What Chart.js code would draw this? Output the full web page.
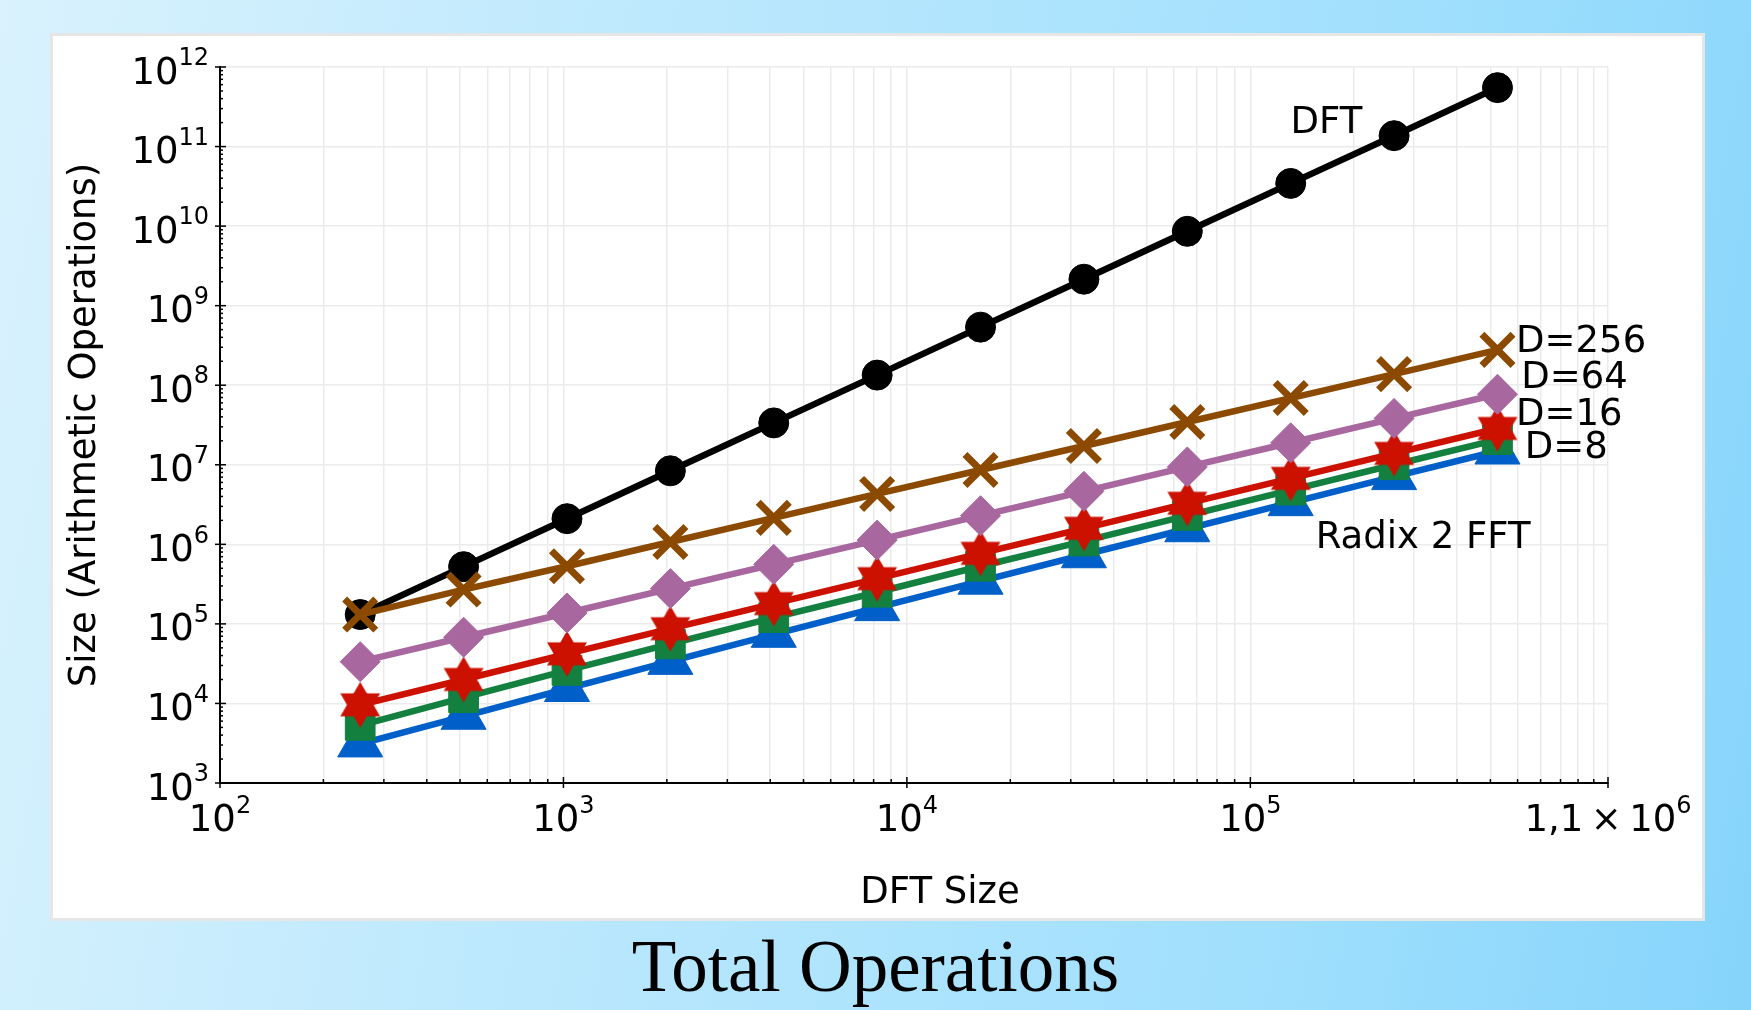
<!DOCTYPE html>
<html>
<head>
<meta charset="utf-8">
<script src="https://cdn.jsdelivr.net/npm/chart.js@4.4.0/dist/chart.umd.min.js"></script>
<style>
  body { margin: 0; width: 1751px; height: 1010px; overflow: hidden;
    background: linear-gradient(100deg, #d9f2fd 0%, #b8e7fd 40%, #9fdffd 75%, #86d4fb 100%); }
  #panel { position: absolute; left: 50px; top: 33px; width: 1649px; height: 882px;
    background: #fff; border: 3px solid #e6e6e6; }
  #title { position: absolute; left: 0; top: 925px; width: 1751px; text-align: center;
    font: 73px "Liberation Serif", serif; line-height: 84px; color: #000; }
</style>
</head>
<body>
<div id="panel"><canvas id="chart" width="1649" height="882"></canvas></div>
<div id="title">Total Operations</div>
<script>
// DFT size (x) and operation counts
const dftSize = [256, 512, 1024, 2048, 4096, 8192, 16384, 32768, 65536, 131072, 262144, 524288];
const dftOps  = [1.31e5, 5.24e5, 2.1e6, 8.4e6, 3.36e7, 1.34e8, 5.37e8, 2.15e9, 8.6e9, 3.44e10, 1.37e11, 5.5e11];
const d256Ops = [1.31e5, 2.7e5, 5.3e5, 1.07e6, 2.15e6, 4.3e6, 8.6e6, 1.72e7, 3.45e7, 6.9e7, 1.38e8, 2.78e8];
const d64Ops  = [3.35e4, 6.8e4, 1.37e5, 2.78e5, 5.6e5, 1.13e6, 2.29e6, 4.64e6, 9.4e6, 1.89e7, 3.83e7, 7.7e7];
const d16Ops  = [9.6e3, 2.0e4, 4.2e4, 8.7e4, 1.8e5, 3.7e5, 7.7e5, 1.59e6, 3.28e6, 6.75e6, 1.39e7, 2.86e7];
const d8Ops   = [5.3e3, 1.18e4, 2.6e4, 5.6e4, 1.2e5, 2.5e5, 5.3e5, 1.1e6, 2.3e6, 4.8e6, 1.0e7, 2.07e7];
const fftOps  = [3.1e3, 6.9e3, 1.54e4, 3.38e4, 7.4e4, 1.6e5, 3.44e5, 7.4e5, 1.57e6, 3.34e6, 7.1e6, 1.49e7];

// tick labels: [base, exponent, value]
const xTickLabels = [['10', '2', 1e2], ['10', '3', 1e3], ['10', '4', 1e4], ['10', '5', 1e5], ['1,1\u2009\u00d7\u200910', '6', 1.1e6]];
const yTickLabels = [3, 4, 5, 6, 7, 8, 9, 10, 11, 12];

// curve labels placed in data coordinates
const curveLabels = [
  ['DFT', 1.31e5, 2.2e11],
  ['D=256', 5.94e5, 3.93e8],
  ['D=64', 6.15e5, 1.35e8],
  ['D=16', 5.94e5, 4.74e7],
  ['D=8', 6.3e5, 1.82e7],
  ['Radix 2 FFT', 1.55e5, 1.35e6]
];

const FONT = '"DejaVu Sans", sans-serif';

function hexagram(r, color) {
  const c = document.createElement('canvas');
  const s = Math.ceil(r * 2) + 2;
  c.width = c.height = s;
  const g = c.getContext('2d');
  g.fillStyle = color;
  [-Math.PI / 2, Math.PI / 2].forEach(a0 => {
    g.beginPath();
    for (let i = 0; i < 3; i++) {
      const a = a0 + i * 2 * Math.PI / 3;
      g.lineTo(s / 2 + r * Math.cos(a), s / 2 + r * Math.sin(a));
    }
    g.closePath();
    g.fill();
  });
  return c;
}

function series(data, color, style, radius, extra) {
  return Object.assign({
    data: data.map((v, i) => ({ x: dftSize[i], y: v })),
    borderColor: color, backgroundColor: color,
    borderWidth: 6.5,
    pointStyle: style, pointRadius: radius,
    pointBackgroundColor: color, pointBorderColor: color, pointBorderWidth: 1,
    tension: 0
  }, extra || {});
}

// minor x grid positions 2..9 x 10^k, plus the end of the axis
const xGrid = [];
for (let e = 2; e <= 5; e++) for (let m = 1; m <= 9; m++) xGrid.push(m * Math.pow(10, e));
xGrid.push(1e6, 1.1e6);
const yGrid = yTickLabels.map(e => Math.pow(10, e));

const overlay = {
  id: 'overlay',
  afterDraw(chart) {
    const { ctx, scales: { x, y } } = chart;
    const left = chart.chartArea.left, bottom = chart.chartArea.bottom;
    ctx.save();
    ctx.strokeStyle = '#000';
    ctx.lineWidth = 1.5;
    // y ticks
    for (let e = 3; e <= 12; e++) {
      for (let m = 1; m <= 9; m++) {
        const v = m * Math.pow(10, e);
        if (v > 1e12) break;
        const py = y.getPixelForValue(v);
        ctx.beginPath();
        if (m === 1) { ctx.moveTo(left - 5, py); ctx.lineTo(left + 6, py); }
        else { ctx.moveTo(left, py); ctx.lineTo(left + 3, py); }
        ctx.stroke();
      }
    }
    // x ticks
    xGrid.forEach(v => {
      const px = x.getPixelForValue(v);
      const major = [1e2, 1e3, 1e4, 1e5, 1.1e6].includes(v);
      ctx.beginPath();
      if (major) { ctx.moveTo(px, bottom + 5); ctx.lineTo(px, bottom - 6); }
      else { ctx.moveTo(px, bottom); ctx.lineTo(px, bottom - 4); }
      ctx.stroke();
    });

    ctx.fillStyle = '#000';
    ctx.textBaseline = 'middle';
    const baseFont = '37px ' + FONT, expFont = '24px ' + FONT;
    // y labels, right aligned
    yTickLabels.forEach(e => {
      const py = y.getPixelForValue(Math.pow(10, e));
      const exp = String(e);
      ctx.font = expFont;
      const ew = ctx.measureText(exp).width;
      const rx = left - 11;
      ctx.textAlign = 'right';
      ctx.fillText(exp, rx, py - 8);
      ctx.font = baseFont;
      ctx.fillText('10', rx - ew, py + 7);
    });
    // x labels, centred
    xTickLabels.forEach(([base, exp, v]) => {
      const px = x.getPixelForValue(v);
      ctx.font = baseFont;
      const bw = ctx.measureText(base).width;
      ctx.font = expFont;
      const ew = ctx.measureText(exp).width;
      const sx = px - (bw + ew) / 2;
      ctx.textAlign = 'left';
      ctx.fillText(exp, sx + bw, bottom + 24);
      ctx.font = baseFont;
      ctx.fillText(base, sx, bottom + 38);
    });
    // axis titles
    ctx.font = baseFont;
    ctx.textAlign = 'center';
    ctx.fillText('DFT Size', (x.left + x.right) / 2 + 26, bottom + 110);
    ctx.save();
    ctx.translate(32, 389);
    ctx.rotate(-Math.PI / 2);
    ctx.fillText('Size (Arithmetic Operations)', 0, 0);
    ctx.restore();
    // curve labels
    ctx.textAlign = 'left';
    curveLabels.forEach(([t, vx, vy]) => {
      ctx.fillText(t, x.getPixelForValue(vx), y.getPixelForValue(vy) + 4);
    });
    ctx.restore();
  }
};

new Chart(document.getElementById('chart'), {
  type: 'line',
  data: {
    datasets: [
      series(d256Ops, '#8c4a00', 'crossRot', 22, { pointBorderWidth: 7 }),
      series(dftOps, '#000000', 'circle', 15),
      series(d64Ops, '#a8679e', 'rectRot', 20),
      series(d16Ops, '#cc1100', hexagram(23, '#cc1100'), 20),
      series(d8Ops, '#138040', 'rect', 21),
      series(fftOps, '#005fc8', 'triangle', 26)
    ]
  },
  options: {
    responsive: false,
    animation: false,
    layout: { padding: { top: 31, right: 94, left: 0, bottom: 0 } },
    plugins: { legend: { display: false }, tooltip: { enabled: false } },
    scales: {
      x: {
        type: 'logarithmic', min: 100, max: 1.1e6,
        afterBuildTicks: s => { s.ticks = xGrid.map(v => ({ value: v })); },
        afterFit: s => { s.height = 135; },
        ticks: { display: false },
        grid: { color: '#ebebeb', lineWidth: 1.5, drawTicks: false },
        border: { display: true, color: '#000', width: 2 }
      },
      y: {
        type: 'logarithmic', min: 1e3, max: 1e12,
        afterBuildTicks: s => { s.ticks = yGrid.map(v => ({ value: v })); },
        afterFit: s => { s.width = 167; },
        ticks: { display: false },
        grid: { color: '#ebebeb', lineWidth: 1.5, drawTicks: false },
        border: { display: true, color: '#000', width: 2 }
      }
    }
  },
  plugins: [overlay]
});
</script>
</body>
</html>
